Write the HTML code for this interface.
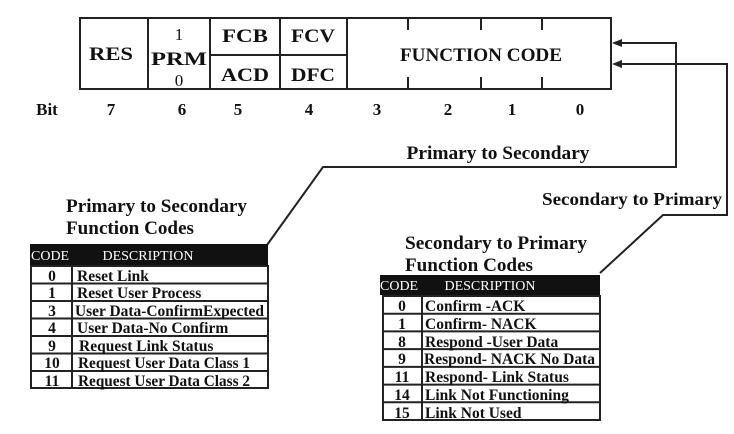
<!DOCTYPE html>
<html><head><meta charset="utf-8"><style>
html,body{margin:0;padding:0;background:#fff}
svg{display:block}
text{font-family:"Liberation Serif",serif;font-weight:bold;fill:#111}
</style></head><body>
<svg width="734" height="434" viewBox="0 0 734 434" xmlns="http://www.w3.org/2000/svg">
<g stroke="#222" stroke-width="2" fill="none">
<rect x="80" y="18" width="531" height="71"/>
<line x1="148" y1="18" x2="148" y2="89"/>
<line x1="210" y1="18" x2="210" y2="89"/>
<line x1="280" y1="18" x2="280" y2="89"/>
<line x1="347" y1="18" x2="347" y2="89"/>
<line x1="210" y1="55" x2="347" y2="55"/>
<line x1="408" y1="18" x2="408" y2="30"/><line x1="408" y1="77" x2="408" y2="89"/>
<line x1="481" y1="18" x2="481" y2="30"/><line x1="481" y1="77" x2="481" y2="89"/>
<line x1="542" y1="18" x2="542" y2="30"/><line x1="542" y1="77" x2="542" y2="89"/>
<polyline points="614,43 676,43 676,167 323,167 267,245"/>
<polyline points="614,64 727,64 727,215 663,215 600,273"/>
</g>
<polygon points="612,43 622,39 622,47" fill="#222"/>
<polygon points="612,64 622,60 622,68" fill="#222"/>
<g font-size="19" text-anchor="middle">
<text x="111" y="60" textLength="44" lengthAdjust="spacingAndGlyphs">RES</text>
<text x="179" y="40" style="font-weight:normal" font-size="17">1</text>
<text x="179" y="65" textLength="56" lengthAdjust="spacingAndGlyphs">PRM</text>
<text x="179" y="86" style="font-weight:normal" font-size="17">0</text>
<text x="245" y="42" textLength="46" lengthAdjust="spacingAndGlyphs">FCB</text>
<text x="313" y="42" textLength="44" lengthAdjust="spacingAndGlyphs">FCV</text>
<text x="245" y="81" textLength="48" lengthAdjust="spacingAndGlyphs">ACD</text>
<text x="313" y="81" textLength="44" lengthAdjust="spacingAndGlyphs">DFC</text>
<text x="481" y="61" textLength="162" lengthAdjust="spacingAndGlyphs">FUNCTION CODE</text>
<text x="47" y="115" font-size="17">Bit</text>
<text x="111" y="115" font-size="17">7</text><text x="182" y="115" font-size="17">6</text><text x="238" y="115" font-size="17">5</text>
<text x="309" y="115" font-size="17">4</text><text x="377" y="115" font-size="17">3</text><text x="448" y="115" font-size="17">2</text>
<text x="512" y="115" font-size="17">1</text><text x="580" y="115" font-size="17">0</text>
<text x="498" y="159" textLength="183" lengthAdjust="spacingAndGlyphs">Primary to Secondary</text>
</g>
<text x="542" y="205" font-size="18" textLength="180" lengthAdjust="spacingAndGlyphs">Secondary to Primary</text>
<text x="66" y="212" font-size="19" textLength="181" lengthAdjust="spacingAndGlyphs">Primary to Secondary</text>
<text x="66" y="234" font-size="19" textLength="128" lengthAdjust="spacingAndGlyphs">Function Codes</text>
<text x="405" y="249" font-size="19" textLength="182" lengthAdjust="spacingAndGlyphs">Secondary to Primary</text>
<text x="405" y="271" font-size="19" textLength="128" lengthAdjust="spacingAndGlyphs">Function Codes</text>
<!-- table 1 -->
<rect x="30" y="244" width="238" height="21" fill="#111"/>
<text x="31" y="260" font-size="14" style="font-weight:normal;fill:#fff">CODE</text>
<text x="148" y="260" font-size="14" text-anchor="middle" style="font-weight:normal;fill:#fff">DESCRIPTION</text>
<g stroke="#222" stroke-width="2" fill="none">
<rect x="31" y="266" width="237" height="122"/>
<line x1="72" y1="266" x2="72" y2="388"/>
<line x1="31" y1="283.5" x2="268" y2="283.5"/><line x1="31" y1="301" x2="268" y2="301"/>
<line x1="31" y1="318.5" x2="268" y2="318.5"/><line x1="31" y1="336" x2="268" y2="336"/>
<line x1="31" y1="353.5" x2="268" y2="353.5"/><line x1="31" y1="371" x2="268" y2="371"/>
</g>
<g font-size="15.5">
<g text-anchor="middle">
<text x="52" y="281">0</text><text x="52" y="298">1</text><text x="52" y="316">3</text>
<text x="52" y="333">4</text><text x="52" y="351">9</text><text x="52" y="368">10</text><text x="52" y="386">11</text>
</g>
<text x="77" y="281">Reset Link</text>
<text x="77" y="298">Reset User Process</text>
<text x="75" y="316" textLength="189" lengthAdjust="spacingAndGlyphs">User Data-ConfirmExpected</text>
<text x="77" y="333">User Data-No Confirm</text>
<text x="79" y="351">Request Link Status</text>
<text x="78" y="368" textLength="172" lengthAdjust="spacingAndGlyphs">Request User Data Class 1</text>
<text x="78" y="386" textLength="172" lengthAdjust="spacingAndGlyphs">Request User Data Class 2</text>
</g>
<!-- table 2 -->
<rect x="380" y="275" width="220" height="20" fill="#111"/>
<text x="380" y="290" font-size="14" style="font-weight:normal;fill:#fff">CODE</text>
<text x="490" y="290" font-size="14" text-anchor="middle" style="font-weight:normal;fill:#fff">DESCRIPTION</text>
<g stroke="#222" stroke-width="2" fill="none">
<rect x="383" y="296" width="217" height="124"/>
<line x1="422" y1="296" x2="422" y2="420"/>
<line x1="383" y1="313.7" x2="600" y2="313.7"/><line x1="383" y1="331.4" x2="600" y2="331.4"/>
<line x1="383" y1="349.1" x2="600" y2="349.1"/><line x1="383" y1="366.9" x2="600" y2="366.9"/>
<line x1="383" y1="384.6" x2="600" y2="384.6"/><line x1="383" y1="402.3" x2="600" y2="402.3"/>
</g>
<g font-size="15.5">
<g text-anchor="middle">
<text x="402" y="311">0</text><text x="402" y="329">1</text><text x="402" y="347">8</text>
<text x="402" y="364">9</text><text x="402" y="382">11</text><text x="402" y="400">14</text><text x="402" y="418">15</text>
</g>
<text x="425" y="311">Confirm -ACK</text>
<text x="425" y="329">Confirm- NACK</text>
<text x="425" y="347">Respond -User Data</text>
<text x="424" y="364" textLength="171" lengthAdjust="spacingAndGlyphs">Respond- NACK No Data</text>
<text x="425" y="382">Respond- Link Status</text>
<text x="425" y="400">Link Not Functioning</text>
<text x="425" y="418">Link Not Used</text>
</g>
</svg>
</body></html>
